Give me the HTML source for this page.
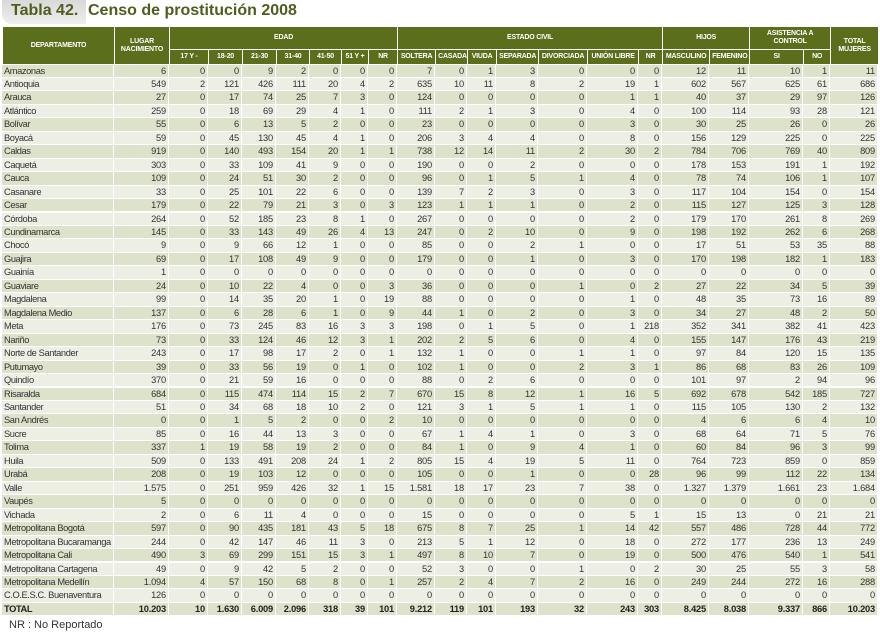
<!DOCTYPE html>
<html><head><meta charset="utf-8">
<style>
body{margin:0;width:880px;height:634px;background:#fff;overflow:hidden;position:relative;font-family:"Liberation Sans Narrow","Liberation Sans",sans-serif;}
#tab{position:absolute;left:2px;top:0;width:84px;height:24px;background:linear-gradient(#d9d9d9,#eeeeee);border-radius:0 0 0 10px;}
#tabtxt{position:absolute;left:9px;top:2px;font:bold 16px "Liberation Sans",sans-serif;color:#4f5e1e;}
#title{position:absolute;left:88px;top:2px;font:bold 16px "Liberation Sans",sans-serif;color:#4f5e1e;}
table{position:absolute;left:2px;top:26px;border-collapse:collapse;table-layout:fixed;width:876px;}
th{border:1px solid #fff;padding:0 2px;overflow:hidden;white-space:nowrap;background:#5b6e1c;color:#fff;font-size:7px;font-weight:bold;text-align:center;line-height:8px;letter-spacing:-0.2px;}
.row{position:absolute;left:0;height:13px;}
.c{position:absolute;top:0;height:12.4px;box-sizing:border-box;padding:0 2px;font-size:9.3px;line-height:12.6px;color:#333;text-align:right;white-space:nowrap;overflow:hidden;letter-spacing:-0.2px;}
.c.n{text-align:left;letter-spacing:-0.4px;}
.row.o .c{background:#dde2cb;}
.row.e .c{background:#edefe5;}
.row.t .c{background:#dde2cb;font-weight:bold;color:#222;}
#note{position:absolute;left:9px;top:619px;font-size:11px;color:#333;font-family:"Liberation Sans",sans-serif;}
</style></head><body>
<div id="tab"><span id="tabtxt">Tabla 42.</span></div>
<div id="title">Censo de prostitución 2008</div>
<table id="t">
<colgroup>
<col style="width:112px"><col style="width:55px"><col style="width:39px"><col style="width:34px"><col style="width:34px"><col style="width:33px"><col style="width:32px"><col style="width:27px"><col style="width:29px"><col style="width:38px"><col style="width:32px"><col style="width:29px"><col style="width:42px"><col style="width:49px"><col style="width:51px"><col style="width:24px"><col style="width:47px"><col style="width:40px"><col style="width:54px"><col style="width:27px"><col style="width:48px">
</colgroup>
<thead>
<tr style="height:23px">
<th rowspan="2">DEPARTAMENTO</th>
<th rowspan="2">LUGAR<br>NACIMIENTO</th>
<th colspan="7">EDAD</th>
<th colspan="7">ESTADO CIVIL</th>
<th colspan="2">HIJOS</th>
<th colspan="2">ASISTENCIA A<br>CONTROL</th>
<th rowspan="2">TOTAL<br>MUJERES</th>
</tr>
<tr style="height:15px">
<th>17 Y -</th><th>18-20</th><th>21-30</th><th>31-40</th><th>41-50</th><th>51 Y +</th><th>NR</th>
<th>SOLTERA</th><th>CASADA</th><th>VIUDA</th><th>SEPARADA</th><th>DIVORCIADA</th><th>UNIÓN LIBRE</th><th>NR</th>
<th>MASCULINO</th><th>FEMENINO</th><th>SI</th><th>NO</th>
</tr>
</thead>
</table>
<div id="body"></div>
<div id="note">NR : No Reportado</div>
<script>
const departments=["Amazonas","Antioquia","Arauca","Atlántico","Bolívar","Boyacá","Caldas","Caquetá","Cauca","Casanare","Cesar","Córdoba","Cundinamarca","Chocó","Guajira","Guainía","Guaviare","Magdalena","Magdalena Medio","Meta","Nariño","Norte de Santander","Putumayo","Quindío","Risaralda","Santander","San Andrés","Sucre","Tolima","Huila","Urabá","Valle","Vaupés","Vichada","Metropolitana Bogotá","Metropolitana Bucaramanga","Metropolitana Cali","Metropolitana Cartagena","Metropolitana Medellín","C.O.E.S.C. Buenaventura","TOTAL"];
const lugar=["6","549","27","259","55","59","919","303","109","33","179","264","145","9","69","1","24","99","137","176","73","243","39","370","684","51","0","85","337","509","208","1.575","5","2","597","244","490","49","1.094","126","10.203"];
const edad=[
[0,0,9,2,0,0,0],[2,121,426,111,20,4,2],[0,17,74,25,7,3,0],[0,18,69,29,4,1,0],[0,6,13,5,2,0,0],[0,45,130,45,4,1,0],[0,140,493,154,20,1,1],[0,33,109,41,9,0,0],[0,24,51,30,2,0,0],[0,25,101,22,6,0,0],[0,22,79,21,3,0,3],[0,52,185,23,8,1,0],[0,33,143,49,26,4,13],[0,9,66,12,1,0,0],[0,17,108,49,9,0,0],[0,0,0,0,0,0,0],[0,10,22,4,0,0,3],[0,14,35,20,1,0,19],[0,6,28,6,1,0,9],[0,73,245,83,16,3,3],[0,33,124,46,12,3,1],[0,17,98,17,2,0,1],[0,33,56,19,0,1,0],[0,21,59,16,0,0,0],[0,115,474,114,15,2,7],[0,34,68,18,10,2,0],[0,1,5,2,0,0,2],[0,16,44,13,3,0,0],[1,19,58,19,2,0,0],[0,133,491,208,24,1,2],[0,19,103,12,0,0,0],[0,251,959,426,32,1,15],[0,0,0,0,0,0,0],[0,6,11,4,0,0,0],[0,90,435,181,43,5,18],[0,42,147,46,11,3,0],[3,69,299,151,15,3,1],[0,9,42,5,2,0,0],[4,57,150,68,8,0,1],[0,0,0,0,0,0,0],["10","1.630","6.009","2.096","318","39","101"]];
const civil=[
[7,0,1,3,0,0,0],[635,10,11,8,2,19,1],[124,0,0,0,0,1,1],[111,2,1,3,0,4,0],[23,0,0,0,0,3,0],[206,3,4,4,0,8,0],[738,12,14,11,2,30,2],[190,0,0,2,0,0,0],[96,0,1,5,1,4,0],[139,7,2,3,0,3,0],[123,1,1,1,0,2,0],[267,0,0,0,0,2,0],[247,0,2,10,0,9,0],[85,0,0,2,1,0,0],[179,0,0,1,0,3,0],[0,0,0,0,0,0,0],[36,0,0,0,1,0,2],[88,0,0,0,0,1,0],[44,1,0,2,0,3,0],[198,0,1,5,0,1,218],[202,2,5,6,0,4,0],[132,1,0,0,1,1,0],[102,1,0,0,2,3,1],[88,0,2,6,0,0,0],[670,15,8,12,1,16,5],[121,3,1,5,1,1,0],[10,0,0,0,0,0,0],[67,1,4,1,0,3,0],[84,1,0,9,4,1,0],[805,15,4,19,5,11,0],[105,0,0,1,0,0,28],["1.581",18,17,23,7,38,0],[0,0,0,0,0,0,0],[15,0,0,0,0,5,1],[675,8,7,25,1,14,42],[213,5,1,12,0,18,0],[497,8,10,7,0,19,0],[52,3,0,0,1,0,2],[257,2,4,7,2,16,0],[0,0,0,0,0,0,0],["9.212","119","101","193","32","243","303"]];
const hijos=[[12,11],[602,567],[40,37],[100,114],[30,25],[156,129],[784,706],[178,153],[78,74],[117,104],[115,127],[179,170],[198,192],[17,51],[170,198],[0,0],[27,22],[48,35],[34,27],[352,341],[155,147],[97,84],[86,68],[101,97],[692,678],[115,105],[4,6],[68,64],[60,84],[764,723],[96,99],["1.327","1.379"],[0,0],[15,13],[557,486],[272,177],[500,476],[30,25],[249,244],[0,0],["8.425","8.038"]];
const control=[[10,1],[625,61],[29,97],[93,28],[26,0],[225,0],[769,40],[191,1],[106,1],[154,0],[125,3],[261,8],[262,6],[53,35],[182,1],[0,0],[34,5],[73,16],[48,2],[382,41],[176,43],[120,15],[83,26],[2,94],[542,185],[130,2],[6,4],[71,5],[96,3],[859,0],[112,22],["1.661",23],[0,0],[0,21],[728,44],[236,13],[540,1],[55,3],[272,16],[0,0],["9.337","866"]];
const totalMujeres=["11","686","126","121","26","225","809","192","107","154","128","269","268","88","183","0","39","89","50","423","219","135","109","96","727","132","10","76","99","859","134","1.684","0","21","772","249","541","58","288","0","10.203"];
const colW=[112,55,39,34,34,33,32,27,29,38,32,29,42,49,51,24,47,40,54,27,48];
const body=document.getElementById('body');
const TOP=64.5, RH=13.46, LEFT=2;
departments.forEach((d,i)=>{
  const row=document.createElement('div');
  row.className='row '+((i===departments.length-1)?'t':(i%2===0?'o':'e'));
  row.style.top=(TOP+i*RH)+'px';
  
  
  const vals=[d,lugar[i]].concat(edad[i],civil[i],hijos[i],control[i],[totalMujeres[i]]);
  let x=LEFT;
  vals.forEach((v,j)=>{
    const c=document.createElement('div');
    c.className='c'+(j===0?' n':'');
    c.style.left=x+'px';
    c.style.width=(colW[j]-1)+'px';
    c.textContent=String(v);
    row.appendChild(c);
    x+=colW[j];
  });
  body.appendChild(row);
});
</script>
</body></html>
